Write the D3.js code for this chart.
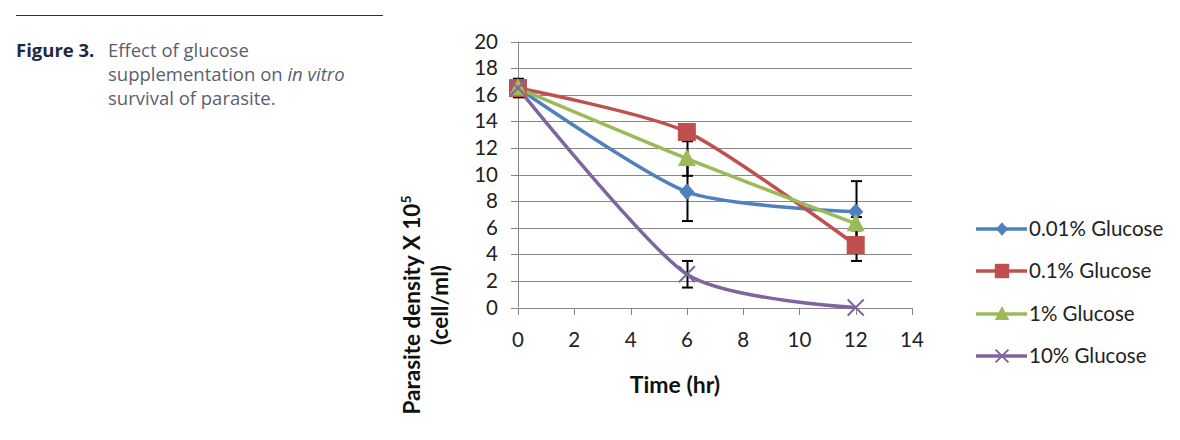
<!DOCTYPE html>
<html><head><meta charset="utf-8">
<script src="https://cdn.jsdelivr.net/npm/d3@7"></script>
<style>
body{margin:0;background:#fff;}
svg{display:block;}
</style></head>
<body><svg id="chart" width="1180" height="440"></svg>
<script>
const times = [0, 6, 12];
const seriesNames = ["0.01% Glucose", "0.1% Glucose", "1% Glucose", "10% Glucose"];
const vals001 = [16.5, 8.7, 7.2];
const vals01 = [16.5, 13.2, 4.7];
const vals1 = [16.5, 11.2, 6.3];
const vals10 = [16.5, 2.5, 0.0];
const err001 = [0.7, 2.2, 2.3];
const err01 = [0.3, 0.5, 1.2];
const err1 = [0.3, 1.3, 0.5];
const err10 = [0.3, 1.0, 0.0];
const xTicks = [0, 2, 4, 6, 8, 10, 12, 14];
const yTicks = [0, 2, 4, 6, 8, 10, 12, 14, 16, 18, 20];
const colors = ["#4F81BD", "#C0504D", "#9BBB59", "#8064A2"];
const markers = ["diamond", "square", "triangle", "x"];

const series = [vals001, vals01, vals1, vals10].map((v, i) => ({
  name: seriesNames[i], values: v, err: [err001, err01, err1, err10][i],
  color: colors[i], marker: markers[i]
}));

const svg = d3.select("#chart");
const x = d3.scaleLinear().domain([0, 14]).range([518, 912]);
const y = d3.scaleLinear().domain([0, 20]).range([307.5, 41.5]);
const gridColor = "#868686";
const font = "Lato, 'Open Sans', sans-serif";

// caption
svg.append("line").attr("x1", 16).attr("x2", 383).attr("y1", 15.5).attr("y2", 15.5)
  .attr("stroke", "#333").attr("stroke-width", 1);
const cap = svg.append("g").attr("font-family", "'Open Sans', 'Noto Sans', sans-serif").attr("font-size", 18.5);
cap.append("text").attr("x", 16).attr("y", 57).attr("font-weight", "bold").attr("fill", "#1e2840").text("Figure 3.");
cap.append("text").attr("x", 108).attr("y", 57).attr("fill", "#5a6070").text("Effect of glucose");
const l2 = cap.append("text").attr("x", 108).attr("y", 81).attr("fill", "#5a6070");
l2.append("tspan").text("supplementation on ");
l2.append("tspan").attr("font-style", "italic").text("in vitro");
cap.append("text").attr("x", 108).attr("y", 105).attr("fill", "#5a6070").text("survival of parasite.");

// grid
svg.append("g").selectAll("line").data(yTicks).join("line")
  .attr("x1", x(0) - 7).attr("x2", x(14)).attr("y1", d => Math.round(y(d)) + 0.5).attr("y2", d => Math.round(y(d)) + 0.5)
  .attr("stroke", gridColor).attr("stroke-width", 1);
// y axis line
svg.append("line").attr("x1", x(0) + 0.5).attr("x2", x(0) + 0.5).attr("y1", y(20)).attr("y2", y(0))
  .attr("stroke", gridColor);
// x tick marks
svg.append("g").selectAll("line").data(xTicks).join("line")
  .attr("x1", d => Math.round(x(d)) + 0.5).attr("x2", d => Math.round(x(d)) + 0.5)
  .attr("y1", Math.round(y(0))).attr("y2", Math.round(y(0)) + 7)
  .attr("stroke", gridColor);

// tick labels
svg.append("g").attr("font-family", font).attr("font-size", 20.5).attr("fill", "#222")
  .selectAll("text").data(yTicks).join("text")
  .attr("x", 498).attr("y", d => y(d)).attr("dy", "0.35em").attr("text-anchor", "end").text(d => d);
svg.append("g").attr("font-family", font).attr("font-size", 20.5).attr("fill", "#222")
  .selectAll("text").data(xTicks).join("text")
  .attr("x", d => x(d)).attr("y", 347).attr("text-anchor", "middle").text(d => d);

// axis titles
svg.append("text").attr("x", 675).attr("y", 393).attr("text-anchor", "middle")
  .attr("font-family", font).attr("font-weight", "bold").attr("font-size", 23).attr("fill", "#111").text("Time (hr)");
const yt = svg.append("g").attr("transform", "translate(0,305) rotate(-90)")
  .attr("font-family", font).attr("font-weight", "bold").attr("font-size", 22.5).attr("fill", "#111").attr("text-anchor", "middle");
const t1 = yt.append("text").attr("x", 0).attr("y", 420);
t1.append("tspan").text("Parasite density X 10");
t1.append("tspan").attr("font-size", 14).attr("dy", -9).text("5");
yt.append("text").attr("x", 0).attr("y", 448).text("(cell/ml)");

// lines
const line = d3.line().x((d, i) => x(times[i])).y(d => y(d)).curve(d3.curveCardinal.tension(0.3));
const plot = svg.append("g");
series.forEach(s => {
  plot.append("path").attr("d", line(s.values)).attr("fill", "none")
    .attr("stroke", s.color).attr("stroke-width", 3.5).attr("stroke-linejoin", "round");
});

function drawMarker(g, type, cx, cy, color, scale) {
  const k = scale || 1;
  if (type === "diamond") {
    const w = 7.5 * k, h = 8.5 * k;
    g.append("path").attr("d", `M${cx},${cy - h}L${cx + w},${cy}L${cx},${cy + h}L${cx - w},${cy}Z`).attr("fill", color);
  } else if (type === "square") {
    const s = 18 * k;
    g.append("rect").attr("x", cx - s / 2).attr("y", cy - s / 2).attr("width", s).attr("height", s).attr("fill", color);
  } else if (type === "triangle") {
    const s = 18 * k;
    g.append("path").attr("d", `M${cx},${cy - s * 0.55}L${cx + s / 2},${cy + s * 0.42}L${cx - s / 2},${cy + s * 0.42}Z`).attr("fill", color);
  } else {
    const s = 8 * k;
    g.append("path").attr("d", `M${cx - s},${cy - s}L${cx + s},${cy + s}M${cx - s},${cy + s}L${cx + s},${cy - s}`)
      .attr("stroke", color).attr("stroke-width", 2);
  }
}

// error bars (under markers)
series.forEach(s => {
  s.values.forEach((v, i) => {
    const e = s.err[i];
    if (!e) return;
    const cx = Math.round(x(times[i])) + 0.5;
    const eb = plot.append("g").attr("stroke", "#000").attr("stroke-width", 2);
    eb.append("line").attr("x1", cx).attr("x2", cx).attr("y1", y(v + e)).attr("y2", y(v - e));
    eb.append("line").attr("x1", cx - 5.5).attr("x2", cx + 5.5).attr("y1", y(v + e)).attr("y2", y(v + e));
    eb.append("line").attr("x1", cx - 5.5).attr("x2", cx + 5.5).attr("y1", y(v - e)).attr("y2", y(v - e));
  });
});
// markers
series.forEach(s => {
  s.values.forEach((v, i) => {
    drawMarker(plot, s.marker, x(times[i]), y(v), s.color);
  });
});

// legend
const legY = [229, 271, 314, 356];
const leg = svg.append("g");
series.forEach((s, i) => {
  const g = leg.append("g");
  g.append("line").attr("x1", 976).attr("x2", 1027).attr("y1", legY[i]).attr("y2", legY[i])
    .attr("stroke", s.color).attr("stroke-width", 3.5);
  drawMarker(g, s.marker, 1002, legY[i], s.color, 0.8);
  g.append("text").attr("x", 1029).attr("y", legY[i]).attr("dy", "0.35em")
    .attr("font-family", font).attr("font-size", 20.5).attr("fill", "#222").text(s.name);
});
</script></body></html>
